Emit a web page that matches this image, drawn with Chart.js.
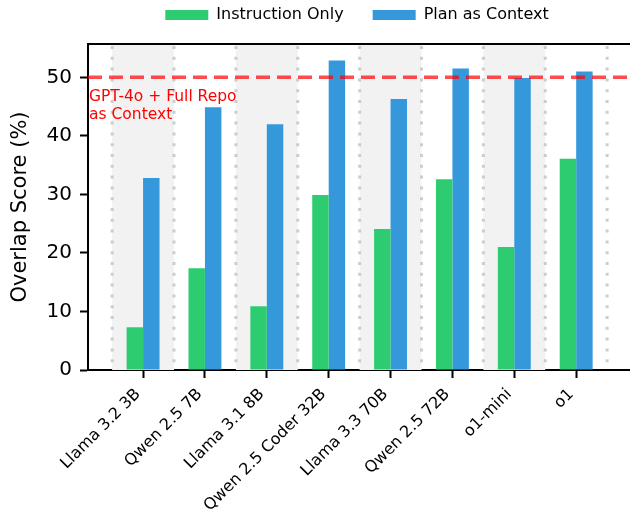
<!DOCTYPE html>
<html>
<head>
<meta charset="utf-8">
<script src="https://cdn.jsdelivr.net/npm/chart.js@4/dist/chart.umd.min.js"></script>
<style>
  html, body { margin: 0; padding: 0; background: #fff; }
  #wrap { width: 630px; height: 514px; }
</style>
</head>
<body>
<div id="wrap"><canvas id="overlapChart"></canvas></div>
<script>
// Data
const models = ['Llama 3.2 3B', 'Qwen 2.5 7B', 'Llama 3.1 8B', 'Qwen 2.5 Coder 32B',
                'Llama 3.3 70B', 'Qwen 2.5 72B', 'o1-mini', 'o1'];
const instructionOnly = [7.3, 17.4, 10.9, 29.9, 24.1, 32.6, 21.0, 36.1];
const planAsContext = [32.8, 44.9, 42.0, 52.9, 46.3, 51.5, 49.9, 51.0];
const yTicks = [0, 10, 20, 30, 40, 50];
const referenceScore = 50;
const referenceLabel = ['GPT-4o + Full Repo', 'as Context'];

Chart.defaults.font.family = 'DejaVu Sans';
Chart.defaults.color = '#000';

// Shaded columns, dotted separators, top spine, reference line, legend
const decorations = {
    id: 'decorations',
    beforeDatasetsDraw(chart) {
        const { ctx, chartArea: area, scales: { x } } = chart;
        ctx.save();
        ctx.fillStyle = '#f2f2f2';
        models.forEach((m, i) => {
            if (i % 2 === 0) {
                const l = x.getPixelForValue(i - 0.5);
                const r = x.getPixelForValue(i + 0.5);
                ctx.fillRect(l, area.top, r - l, area.bottom - area.top);
            }
        });
        ctx.strokeStyle = 'rgba(190,190,190,0.75)';
        ctx.lineWidth = 3;
        ctx.setLineDash([3, 7.8]);
        for (let i = 0; i <= models.length; i++) {
            const px = x.getPixelForValue(i - 0.5);
            ctx.beginPath();
            ctx.moveTo(px, area.top + 2);
            ctx.lineTo(px, area.bottom);
            ctx.stroke();
        }
        ctx.restore();
    },
    afterDatasetsDraw(chart) {
        const { ctx, chartArea: area, scales: { y } } = chart;
        const py = y.getPixelForValue(referenceScore);
        ctx.save();
        ctx.strokeStyle = 'rgba(255,0,0,0.7)';
        ctx.lineWidth = 3.5;
        ctx.setLineDash([14, 7]);
        ctx.beginPath();
        ctx.moveTo(area.left, py);
        ctx.lineTo(area.right, py);
        ctx.stroke();
        ctx.setLineDash([]);
        ctx.fillStyle = '#ff0000';
        ctx.font = '15.5px "DejaVu Sans"';
        ctx.textBaseline = 'alphabetic';
        ctx.fillText(referenceLabel[0], area.left + 1, py + 24);
        ctx.fillText(referenceLabel[1], area.left + 1, py + 42);
        // top spine
        ctx.strokeStyle = '#000';
        ctx.lineWidth = 2;
        ctx.beginPath();
        ctx.moveTo(area.left - 1, area.top);
        ctx.lineTo(area.right, area.top);
        ctx.stroke();
        ctx.restore();
    },
    afterDraw(chart) {
        const { ctx, chartArea: area } = chart;
        const sets = chart.data.datasets;
        ctx.save();
        ctx.font = '16px "DejaVu Sans"';
        ctx.textBaseline = 'middle';
        const boxW = 43, boxH = 10, gap = 8, spacing = 29;
        const widths = sets.map(d => boxW + gap + ctx.measureText(d.label).width);
        const total = widths.reduce((a, b) => a + b, 0) + spacing * (sets.length - 1);
        let lx = (area.left + area.right) / 2 - 2 - total / 2;
        const ly = area.top - 29;
        sets.forEach((d, i) => {
            ctx.fillStyle = d.backgroundColor;
            ctx.fillRect(lx, ly - boxH / 2, boxW, boxH);
            ctx.fillStyle = '#000';
            ctx.fillText(d.label, lx + boxW + gap, ly);
            lx += widths[i] + spacing;
        });
        ctx.restore();
    }
};

const ctx = document.getElementById('overlapChart').getContext('2d');

new Chart(ctx, {
    type: 'bar',
    data: {
        datasets: [{
            label: 'Instruction Only',
            data: instructionOnly.map((v, i) => ({ x: i, y: v })),
            backgroundColor: '#2ecc71',
            borderWidth: 0,
        }, {
            label: 'Plan as Context',
            data: planAsContext.map((v, i) => ({ x: i, y: v })),
            backgroundColor: '#3498db',
            borderWidth: 0,
        }],
    },
    options: {
        responsive: true,
        maintainAspectRatio: false,
        animation: false,
        categoryPercentage: 0.532,
        barPercentage: 1,
        layout: { padding: { top: 44, left: 0, right: 0, bottom: 0 } },
        plugins: {
            tooltip: { enabled: false },
            legend: { display: false },
        },
        scales: {
            x: {
                type: 'linear',
                min: -0.89,
                max: 7.87,
                offset: false,
                afterBuildTicks(scale) {
                    scale.ticks = models.map((m, i) => ({ value: i }));
                },
                afterFit(scale) {
                    scale.height = 144;
                },
                ticks: {
                    autoSkip: false,
                    maxRotation: 45,
                    minRotation: 45,
                    padding: 7,
                    labelOffset: -5,
                    font: { size: 16 },
                    callback: (v) => models[v],
                },
                grid: {
                    offset: false,
                    drawOnChartArea: false,
                    drawTicks: true,
                    tickLength: 8,
                    tickWidth: 2,
                    tickColor: '#000',
                },
                border: { display: true, color: '#000', width: 2 },
            },
            y: {
                min: 0,
                max: 55.7,
                afterBuildTicks(scale) {
                    scale.ticks = yTicks.map(v => ({ value: v }));
                },
                afterFit(scale) {
                    scale.width = 88;
                },
                ticks: {
                    padding: 8,
                    font: { size: 20 },
                },
                grid: {
                    drawOnChartArea: false,
                    drawTicks: true,
                    tickLength: 8,
                    tickWidth: 2,
                    tickColor: '#000',
                },
                border: { display: true, color: '#000', width: 2 },
                title: {
                    display: true,
                    text: 'Overlap Score (%)',
                    font: { size: 21 },
                    padding: { top: 8, bottom: 0 },
                },
            },
        },
    },
    plugins: [decorations],
});
</script>
</body>
</html>
